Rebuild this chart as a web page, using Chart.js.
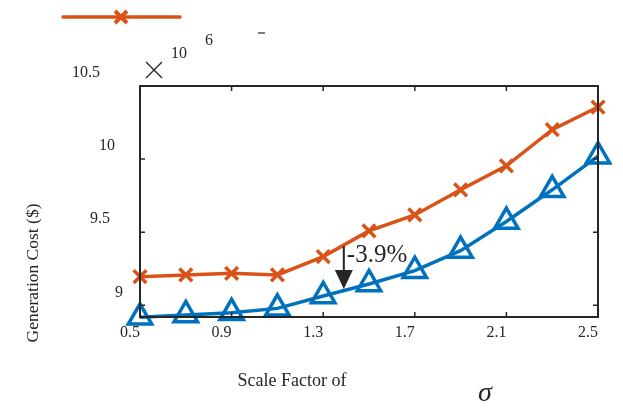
<!DOCTYPE html>
<html>
<head>
<meta charset="utf-8">
<script src="https://cdn.jsdelivr.net/npm/chart.js@4/dist/chart.umd.min.js"></script>
<style>
  html, body { margin: 0; padding: 0; background: #fff; }
  #wrap { width: 623px; height: 408px; }
</style>
</head>
<body>
<div id="wrap"><canvas id="graph" width="623" height="408"></canvas></div>
<script>
// scale factor of sigma
const scaleFactors = [0.5, 0.7, 0.9, 1.1, 1.3, 1.5, 1.7, 1.9, 2.1, 2.3, 2.5];
// generation cost (x10^6 $)
const costBase = [9.196, 9.208, 9.219, 9.208, 9.333, 9.509, 9.618, 9.790, 9.954, 10.201, 10.356];
const costNew = [8.918, 8.934, 8.949, 8.979, 9.064, 9.146, 9.237, 9.374, 9.573, 9.790, 10.02];
const xTicks = [0.5, 0.9, 1.3, 1.7, 2.1, 2.5];
const yTicks = [9, 9.5, 10, 10.5];
const yTickLabels = ['9', '9.5', '10', '10.5'];

const ORANGE = '#D95319';
const BLUE = '#0072BD';
const SERIF = '"Liberation Serif", "DejaVu Serif", serif';

const toPts = (xs, ys) => xs.map((x, i) => ({ x: x, y: ys[i] }));

// draws the box, inward ticks and the odd matlab-ish labels
const framePlugin = {
    id: 'frame',
    afterDatasetsDraw(chart) {
        const ctx = chart.ctx;
        const xs = chart.scales.x;
        const ys = chart.scales.y;
        const a = chart.chartArea;
        ctx.save();
        ctx.strokeStyle = '#262626';
        ctx.lineWidth = 2;
        ctx.strokeRect(a.left, a.top, a.right - a.left, a.bottom - a.top);

        ctx.lineWidth = 1.5;
        ctx.beginPath();
        for (const t of xTicks) {
            const px = xs.getPixelForValue(t);
            ctx.moveTo(px, a.bottom); ctx.lineTo(px, a.bottom - 5);
            ctx.moveTo(px, a.top); ctx.lineTo(px, a.top + 5);
        }
        for (const t of yTicks) {
            const py = ys.getPixelForValue(t);
            ctx.moveTo(a.left, py); ctx.lineTo(a.left + 5, py);
            ctx.moveTo(a.right, py); ctx.lineTo(a.right - 5, py);
        }
        ctx.stroke();

        ctx.fillStyle = '#262626';
        ctx.font = '16px ' + SERIF;
        ctx.textAlign = 'center';
        ctx.textBaseline = 'middle';
        for (const t of xTicks) {
            ctx.fillText(t.toFixed(1), xs.getPixelForValue(t) - 10, a.bottom + 16);
        }
        // y labels sit up and to the left of their ticks, staggered
        const yRight = [123, 110, 115, 100];
        ctx.textAlign = 'right';
        yTicks.forEach((t, i) => {
            ctx.fillText(yTickLabels[i], yRight[i], ys.getPixelForValue(t) - 13);
        });

        // x10^6 multiplier
        ctx.textAlign = 'center';
        ctx.lineWidth = 1.3;
        ctx.beginPath();
        ctx.moveTo(146, 62); ctx.lineTo(162, 78);
        ctx.moveTo(162, 62); ctx.lineTo(146, 78);
        ctx.stroke();
        ctx.font = '16px ' + SERIF;
        ctx.fillText('10', 179, 54);
        ctx.fillText('6', 209, 41);

        // axis titles
        ctx.font = '18px ' + SERIF;
        ctx.fillText('Scale Factor of', 292, 381);
        ctx.font = 'italic 28px ' + SERIF;
        ctx.fillText('\u03c3', 485, 394);
        ctx.save();
        ctx.translate(33, 273);
        ctx.rotate(-Math.PI / 2);
        ctx.font = '17.5px ' + SERIF;
        ctx.fillText('Generation Cost ($)', 0, 0);
        ctx.restore();

        // legend entry (text cut off in the original)
        ctx.strokeStyle = ORANGE;
        ctx.lineWidth = 3.5;
        ctx.lineCap = 'round';
        ctx.beginPath();
        ctx.moveTo(63, 17); ctx.lineTo(180, 17);
        ctx.stroke();
        ctx.lineWidth = 4;
        ctx.lineCap = 'butt';
        ctx.beginPath();
        ctx.moveTo(115, 11); ctx.lineTo(127, 23);
        ctx.moveTo(127, 11); ctx.lineTo(115, 23);
        ctx.stroke();
        ctx.lineWidth = 1.2;
        ctx.strokeStyle = '#262626';
        ctx.beginPath();
        ctx.moveTo(258, 33); ctx.lineTo(265, 33);
        ctx.stroke();

        // -3.9% annotation arrow
        const ax = xs.getPixelForValue(1.39);
        ctx.strokeStyle = '#262626';
        ctx.lineWidth = 2;
        ctx.beginPath();
        ctx.moveTo(ax, 246); ctx.lineTo(ax, 272);
        ctx.stroke();
        ctx.beginPath();
        ctx.moveTo(ax - 9, 270); ctx.lineTo(ax + 9, 270); ctx.lineTo(ax, 289);
        ctx.closePath();
        ctx.fill();
        ctx.textAlign = 'left';
        ctx.font = '25px ' + SERIF;
        ctx.fillText('-3.9%', ax + 3, 255);
        ctx.restore();
    }
};

document.addEventListener('DOMContentLoaded', function() {
    const graph = document.querySelector('#graph').getContext('2d');
    new Chart(graph, {
        type: 'line',
        data: {
            datasets: [{
                label: 'base',
                data: toPts(scaleFactors, costBase),
                borderColor: ORANGE,
                backgroundColor: ORANGE,
                borderWidth: 3.5,
                pointStyle: 'crossRot',
                pointRadius: 9,
                pointBorderWidth: 3.5,
                clip: false
            }, {
                label: 'proposed',
                data: toPts(scaleFactors, costNew),
                borderColor: BLUE,
                backgroundColor: 'rgba(0,0,0,0)',
                borderWidth: 3.5,
                pointStyle: 'triangle',
                pointRadius: 13.5,
                pointBorderWidth: 3.5,
                clip: false
            }]
        },
        options: {
            responsive: false,
            animation: false,
            events: [],
            layout: { padding: { left: 140, right: 25, top: 86, bottom: 91 } },
            plugins: { legend: { display: false }, tooltip: { enabled: false } },
            scales: {
                x: { type: 'linear', min: 0.5, max: 2.5, display: false },
                y: { type: 'linear', min: 8.92, max: 10.5, display: false }
            }
        },
        plugins: [framePlugin]
    });
});
</script>
</body>
</html>
